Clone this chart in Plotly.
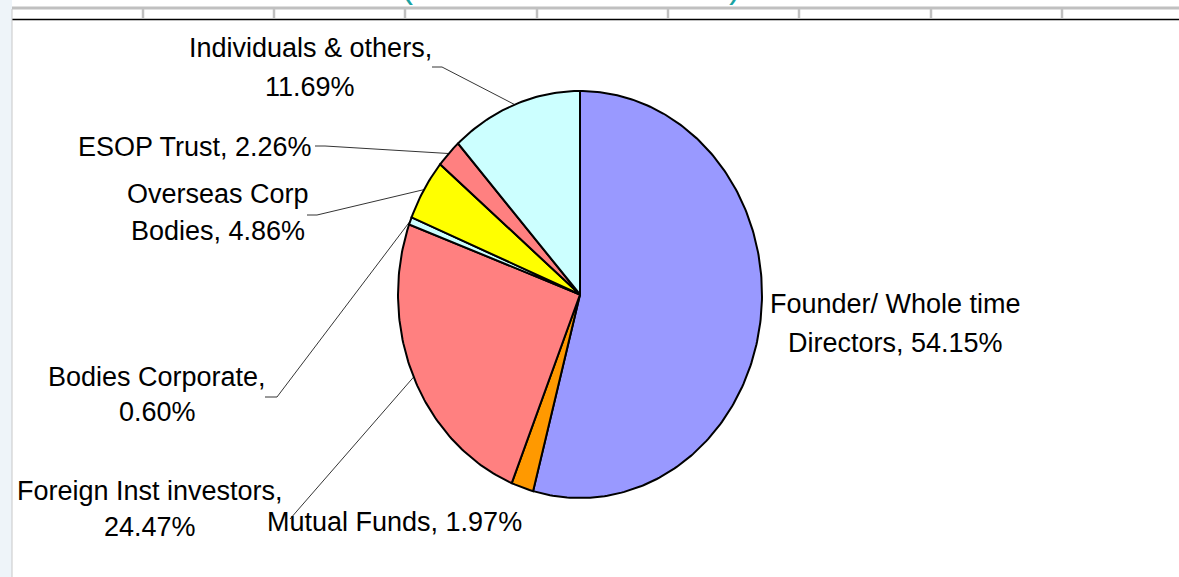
import numpy as np
import plotly.graph_objects as go

# shareholding pattern, clockwise from 12 o'clock
labels = ["Founder/ Whole time Directors", "Mutual Funds", "Foreign Inst investors",
          "Bodies Corporate", "Overseas Corp Bodies", "ESOP Trust", "Individuals & others"]
shares = [54.15, 1.97, 24.47, 0.60, 4.86, 2.26, 11.69]
colors = ["#9999FF", "#FF9900", "#FF8080", "#CCFFFF", "#FFFF00", "#FF8080", "#CCFFFF"]

# label text lines and their centre positions (pixels), leader line start (None = no line)
label_lines = [
    ["Founder/ Whole time", "Directors, 54.15%"],
    ["Mutual Funds, 1.97%"],
    ["Foreign Inst investors,", "24.47%"],
    ["Bodies Corporate,", "0.60%"],
    ["Overseas Corp", "Bodies, 4.86%"],
    ["ESOP Trust, 2.26%"],
    ["Individuals & others,", "11.69%"],
]
label_pos = [(895, 304, 39), (394, 522, 0), (150, 491, 36), (157, 377, 35),
             (218, 194, 37), (195, 147, 0), (310, 48, 39)]
leader_start = [None, None, [(290, 519)], [(265, 397), (277, 397)],
                [(307, 215), (317, 215)], [(315, 146), (325, 146)], [(432, 67), (442, 67)]]

W, H = 1179, 577
cx, cy, rx, ry = 580, 294.5, 182, 203.5
FONT = "Liberation Sans, Arial, sans-serif"

fig = go.Figure()

total = sum(shares)
start = 0.0
mids = []
for name, v, c in zip(labels, shares, colors):
    t0 = start / total * 2 * np.pi
    t1 = (start + v) / total * 2 * np.pi
    t = np.linspace(t0, t1, max(4, int(v * 4)))
    xs = np.concatenate([[cx], cx + rx * np.sin(t), [cx]])
    ys = np.concatenate([[cy], cy - ry * np.cos(t), [cy]])
    fig.add_trace(go.Scatter(x=xs, y=ys, mode="lines", fill="toself", fillcolor=c,
                             line=dict(color="black", width=2), name=name,
                             hoverinfo="name"))
    mids.append((t0 + t1) / 2)
    start += v

# leader lines from label to slice edge
for m, pts in zip(mids, leader_start):
    if pts is None:
        continue
    ex, ey = cx + rx * np.sin(m), cy - ry * np.cos(m)
    fig.add_trace(go.Scatter(x=[p[0] for p in pts] + [ex], y=[p[1] for p in pts] + [ey],
                             mode="lines", line=dict(color="black", width=0.8),
                             hoverinfo="skip"))

for lines, (lx, ly, dy) in zip(label_lines, label_pos):
    for i, txt in enumerate(lines):
        fig.add_annotation(x=lx, y=ly + i * dy, text=txt, showarrow=False,
                           xref="x", yref="y", font=dict(size=27, color="black", family=FONT))

# page decoration: cut-off table header at top and left border
shapes = [
    dict(type="rect", xref="paper", yref="paper", x0=0, x1=12 / W, y0=0, y1=1,
         fillcolor="#eef4f9", line_width=0, layer="below"),
    dict(type="line", xref="x", yref="y", x0=12, x1=W, y0=8, y1=8,
         line=dict(color="#c0c0c0", width=3)),
    dict(type="line", xref="x", yref="y", x0=12, x1=W, y0=19.5, y1=19.5,
         line=dict(color="black", width=1.5)),
    dict(type="line", xref="x", yref="y", x0=12, x1=12, y0=9, y1=H,
         line=dict(color="#c8c8c8", width=1)),
]
for sx in [143, 274, 405, 537, 668, 799, 931, 1062]:
    shapes.append(dict(type="line", xref="x", yref="y", x0=sx, x1=sx, y0=9, y1=19,
                       line=dict(color="#c0c0c0", width=2.5)))
fig.update_layout(shapes=shapes)

# bottoms of a cut-off title's parentheses
for px_, txt in [(407, "("), (735, ")")]:
    fig.add_annotation(x=px_, y=7, text=txt, showarrow=False, xref="x", yref="y",
                       yanchor="bottom", font=dict(size=36, color="#1aa3a3", family=FONT))

fig.update_xaxes(range=[0, W], visible=False, fixedrange=True)
fig.update_yaxes(range=[H, 0], visible=False, fixedrange=True)
fig.update_layout(
    width=W, height=H,
    showlegend=False,
    margin=dict(l=0, r=0, t=0, b=0),
    paper_bgcolor="white",
    plot_bgcolor="white",
)

fig.write_html("out.html", config={"displayModeBar": False},
               post_script="document.body.style.margin='0';document.body.style.overflow='hidden';")
